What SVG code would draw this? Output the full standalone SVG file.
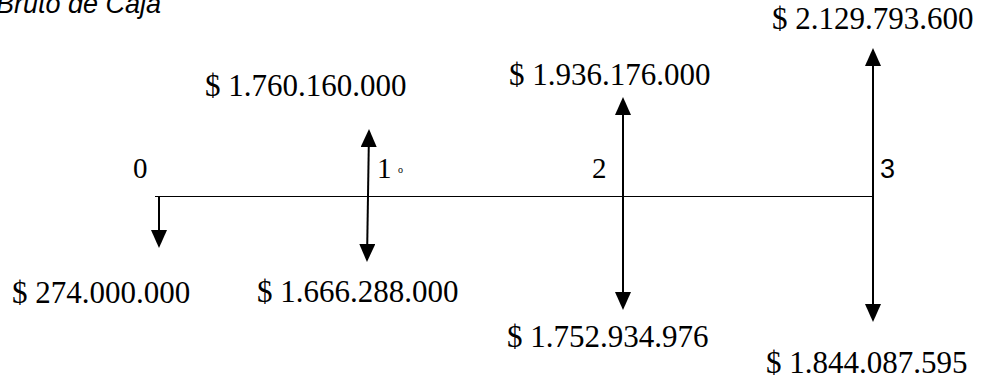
<svg xmlns="http://www.w3.org/2000/svg" width="987" height="377" viewBox="0 0 987 377">
<style>
.lbl{font-family:"Liberation Serif","Times New Roman",serif;font-size:29px;fill:#000}
.num{font-family:"Liberation Serif","Times New Roman",serif;font-size:31px;fill:#000}
.title{font-family:"Liberation Sans",Arial,sans-serif;font-size:27px;font-style:italic;fill:#000}
.arr{stroke:#000;stroke-width:2;fill:none;marker-end:url(#ah)}
.arr2{stroke:#000;stroke-width:2;fill:none;marker-end:url(#ah);marker-start:url(#ah)}
</style>
<defs>
<marker id="ah" markerUnits="userSpaceOnUse" markerWidth="18" markerHeight="16" refX="16" refY="8" orient="auto-start-reverse" viewBox="0 0 18 16">
<path d="M0,0 L18,8 L0,16 z" fill="#000"/>
</marker>
</defs>
<rect width="987" height="377" fill="#fff"/>
<text class="title" x="-4" y="13">Bruto de Caja</text>
<g id="connectors">
<line id="timeline" x1="155" y1="196.5" x2="873" y2="196.5" stroke="#000" stroke-width="1"/>
<line class="arr" x1="159" y1="196" x2="159" y2="246"/>
<line class="arr2" x1="369" y1="131" x2="367" y2="260"/>
<line class="arr2" x1="623" y1="99" x2="623" y2="308"/>
<line class="arr2" x1="873" y1="50" x2="873" y2="320"/>
</g>
<g id="period0">
<text class="lbl" x="133" y="178">0</text>
<text class="num" x="12" y="303">$ 274.000.000</text>
</g>
<g id="period1">
<text class="lbl" x="377" y="178">1</text>
<text x="398" y="173" font-family="Liberation Serif, serif" font-size="10">o</text>
<text class="num" x="205" y="96">$ 1.760.160.000</text>
<text class="num" x="257" y="302">$ 1.666.288.000</text>
</g>
<g id="period2">
<text class="lbl" x="592" y="178">2</text>
<text class="num" x="509" y="85">$ 1.936.176.000</text>
<text class="num" x="507" y="347">$ 1.752.934.976</text>
</g>
<g id="period3">
<text x="880" y="178" font-family="Liberation Sans, Arial, sans-serif" font-size="27">3</text>
<text class="num" x="772" y="29">$ 2.129.793.600</text>
<text class="num" x="766" y="373">$ 1.844.087.595</text>
</g>
</svg>
